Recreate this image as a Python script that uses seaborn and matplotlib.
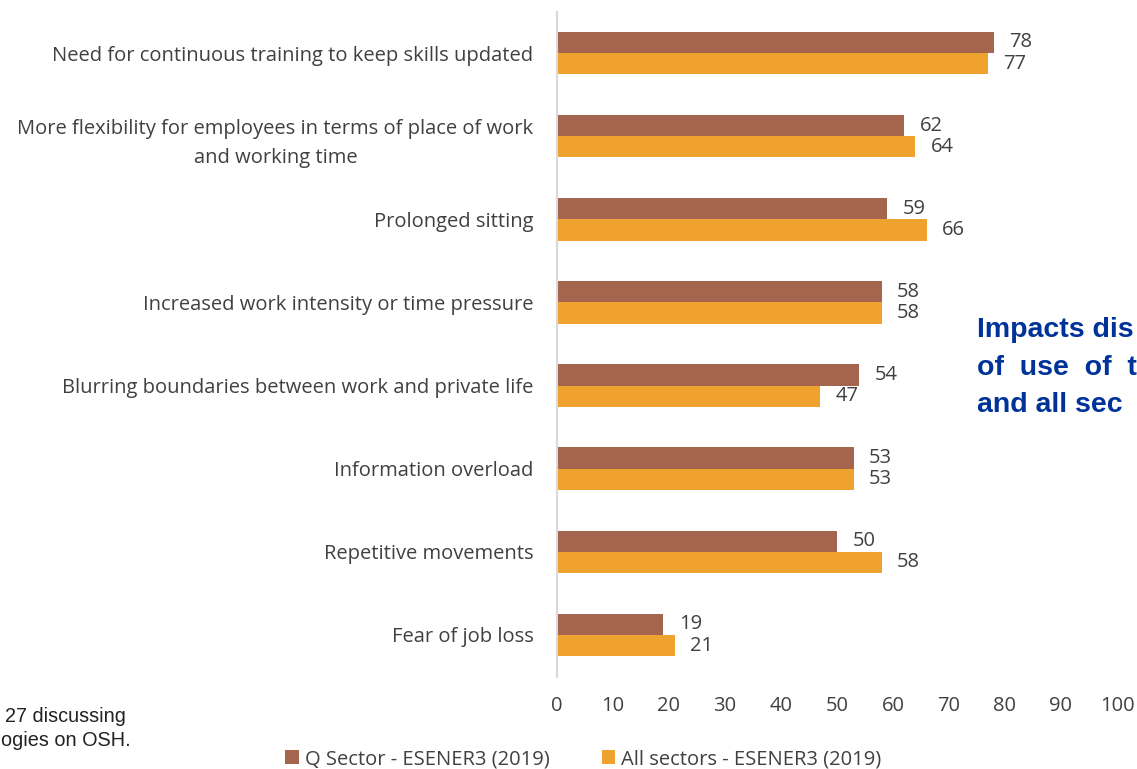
import matplotlib
matplotlib.use("Agg")
import matplotlib.pyplot as plt
import seaborn as sns
import pandas as pd

categories = [
    "Need for continuous training to keep skills updated",
    "More flexibility for employees in terms of place of work\nand working time",
    "Prolonged sitting",
    "Increased work intensity or time pressure",
    "Blurring boundaries between work and private life",
    "Information overload",
    "Repetitive movements",
    "Fear of job loss",
]
q_sector = [78, 62, 59, 58, 54, 53, 50, 19]
all_sectors = [77, 64, 66, 58, 47, 53, 58, 21]
series_names = ["Q Sector - ESENER3 (2019)", "All sectors - ESENER3 (2019)"]
x_ticks = [0, 10, 20, 30, 40, 50, 60, 70, 80, 90, 100]
side_title_lines = ["Impacts dis", "of  use  of  t", "and all sec"]
footnote_lines = ["27 discussing", "ogies on OSH."]

colors = ["#A5644E", "#F0A22E"]
text_color = "#404040"
fs = 14.5

sns.set_theme(style="white")
plt.rcParams["font.family"] = ["Open Sans", "DejaVu Sans"]

df = pd.DataFrame({
    "category": categories * 2,
    "value": q_sector + all_sectors,
    "series": [series_names[0]] * len(categories) + [series_names[1]] * len(categories),
})

fig = plt.figure(figsize=(11.37, 7.69), dpi=100)
ax = fig.add_axes([557 / 1137, 1 - 676.5 / 769, 560 / 1137, 665 / 769])

sns.barplot(data=df, y="category", x="value", hue="series", order=categories,
            hue_order=series_names, palette=colors, width=0.51, orient="h",
            saturation=1, linewidth=0, ax=ax, legend=True)

for cont in ax.containers:
    ax.bar_label(cont, padding=11, fontsize=fs, color=text_color)

ax.set_xlim(0, 100)
ax.set_xticks(x_ticks)
ax.set_xlabel("")
ax.set_ylabel("")
ax.tick_params(axis="x", length=0, pad=14, labelsize=fs, labelcolor=text_color)
ax.tick_params(axis="y", length=0, pad=17, labelsize=fs, labelcolor=text_color)
for lbl in ax.get_yticklabels():
    lbl.set_multialignment("center")
    lbl.set_linespacing(1.6)
for s in ["top", "right", "bottom"]:
    ax.spines[s].set_visible(False)
ax.spines["left"].set_color("#D9D9D9")
ax.spines["left"].set_linewidth(1.5)

handles, labels = ax.get_legend_handles_labels()
ax.get_legend().remove()
fig.legend(handles, labels, loc="center", bbox_to_anchor=(0.513, 0.013), ncol=2,
           frameon=False, handlelength=0.65, handleheight=0.65, handletextpad=0.3,
           columnspacing=2.6, prop={"size": fs}, labelcolor=text_color)

for i, line in enumerate(side_title_lines):
    fig.text(977 / 1137, 1 - (330 + 37.5 * i) / 769, line,
             fontsize=20.5, fontweight="bold", color="#003399",
             family=["Liberation Sans", "DejaVu Sans"], ha="left", va="center")
for i, line in enumerate(footnote_lines):
    fig.text((5 if i == 0 else 1) / 1137, 1 - (717 + 23 * i) / 769, line, fontsize=14.3,
             color="#222222", family=["Liberation Sans", "DejaVu Sans"],
             ha="left", va="center")

fig.savefig("out.png", dpi=100)
